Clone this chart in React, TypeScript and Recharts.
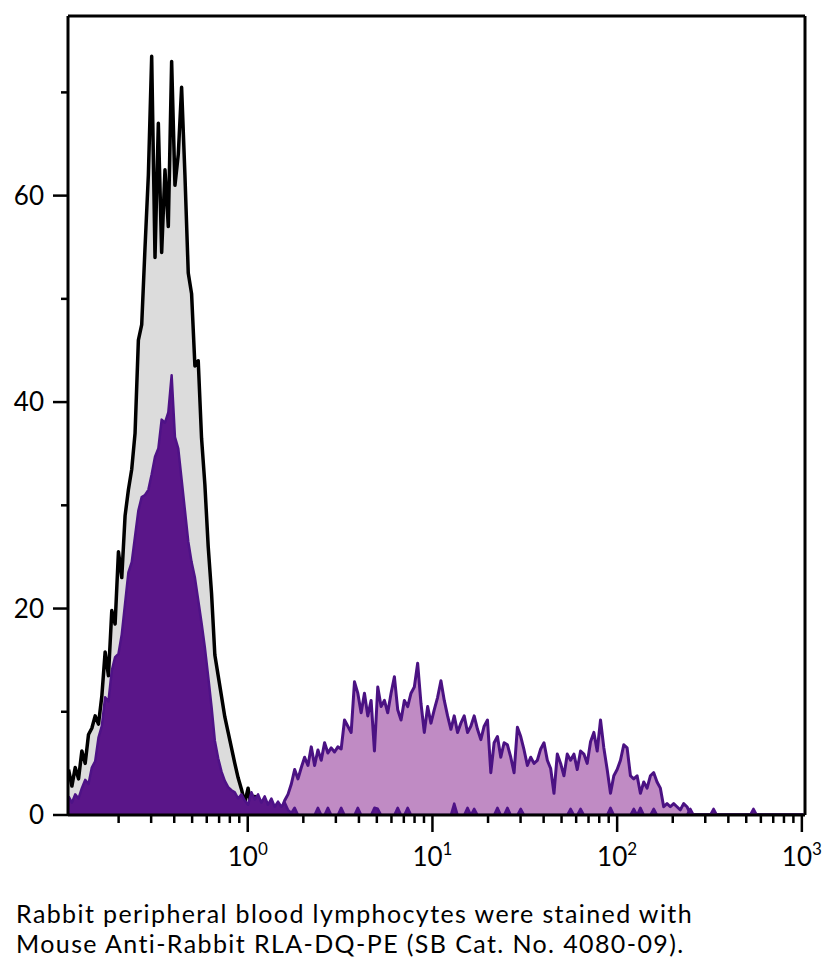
import { AreaChart, Area, XAxis, YAxis, ReferenceLine } from 'recharts';

// histogram bins are evenly spaced in log10 of fluorescence
const LOG_START = -0.97;
const LOG_STEP = 0.018;
const BIN_COUNT = 222;

const X_MIN = 0.1064;
const X_MAX = 1040;
const Y_MAX = 77.4;

// unstained / isotype control (grey with black outline)
const controlCounts = [
  4.4, 2.8, 4.6, 3.5, 6.2, 5.0, 7.8, 8.4, 9.6, 8.8,
  11.5, 15.8, 13.5, 19.8, 18.5, 25.5, 23.0, 29.0, 31.5, 33.5,
  37.0, 46.0, 47.5, 55.0, 62.0, 73.5, 54.0, 67.0, 54.5, 62.5,
  57.0, 73.0, 61.0, 64.0, 70.5, 62.0, 52.5, 50.5, 43.5, 44.0,
  36.5, 32.0, 26.0, 21.5, 15.5, 13.5, 11.5, 9.5, 8.0, 6.5,
  5.0, 3.6, 2.5, 1.2, 2.6, 0.6, 1.8, 0.4, 1.0, 0.2,
  0.5, 0,
];

// negative population (dark purple)
const negativeCounts = [
  1.8, 1.2, 2.0, 1.6, 2.6, 3.4, 3.0, 4.6, 5.2, 7.5,
  8.6, 11.4, 11.0, 14.0, 15.3, 15.6, 17.5, 20.5, 23.5, 24.5,
  27.0, 29.5, 30.8, 31.0, 31.5, 33.0, 34.7, 35.5, 38.3, 38.0,
  39.0, 42.6, 36.6, 35.5, 32.5, 29.5, 26.5, 24.5, 23.0, 20.8,
  18.6, 16.2, 13.4, 10.5, 7.2, 5.5, 4.2, 3.3, 2.7, 2.4,
  2.2, 1.6, 2.0, 1.4, 1.0, 2.2, 1.5, 2.0, 1.2, 1.8,
  1.0, 1.6, 0.8, 1.3, 0.8, 1.2, 0.5, 0.2,
  0.7, 0, 0, 0, 0, 0, 0, 0.7, 0, 0,
  0.7, 0, 0, 0, 0.7, 0, 0, 0, 0, 0.7,
  0, 0, 0, 0, 0.7, 0.6, 0, 0, 0, 0,
  0, 0.7, 0, 0, 0.7, 0, 0, 0, 0, 0,
  0, 0, 0, 0, 0, 0, 0, 0, 1.1, 0,
  0, 0, 0.7, 0, 0.6, 0, 0, 0, 0, 0,
  0, 0.7, 0, 0, 0.7, 0, 0, 0, 0.6, 0,
  0, 0, 0, 0, 0, 0, 0, 0, 0, 0,
  0, 0, 0, 0.6, 0, 0, 0.6, 0, 0, 0,
  0, 0, 0, 0, 0, 0.7, 0, 0, 0, 0,
  0, 0, 0.6, 0, 0.7, 0, 0, 0, 0.6, 0,
  0, 0, 0, 0, 0, 0, 0, 0, 0, 0.6,
  0, 0, 0, 0, 0, 0, 0.6, 0, 0, 0,
  0, 0, 0, 0, 0, 0, 0, 0, 0.6, 0,
];

// RLA-DQ positive population (light purple), starts at bin 64
const POSITIVE_START_BIN = 64;
const positiveCounts = [
  0.6, 1.4, 2.0, 3.0, 4.4, 3.5, 4.6, 5.6, 4.8, 6.6,
  4.8, 6.3, 5.3, 7.0, 6.0, 6.5, 6.1, 6.6, 6.4, 9.2,
  8.6, 8.0, 12.9, 11.8, 9.9, 11.8, 9.6, 11.1, 6.2, 12.4,
  10.5, 11.1, 9.9, 11.8, 13.4, 10.2, 9.2, 11.1, 10.5, 11.8,
  12.4, 14.7, 10.8, 8.0, 10.5, 8.9, 10.2, 11.4, 13.0, 11.1,
  9.6, 8.3, 9.6, 8.0, 8.9, 9.6, 8.0, 8.6, 9.6, 8.3,
  7.3, 8.6, 9.2, 4.1, 7.0, 7.6, 5.6, 7.0, 6.8, 5.6,
  4.1, 8.5, 7.6, 6.3, 4.8, 5.6, 5.0, 5.3, 6.4, 7.0,
  5.3, 4.5, 2.1, 5.9, 5.0, 3.8, 5.9, 5.3, 5.9, 4.4,
  6.2, 5.9, 5.0, 7.1, 8.0, 6.2, 9.2, 6.5, 4.4, 2.1,
  3.8, 4.4, 5.3, 6.8, 6.5, 3.8, 3.5, 3.8, 2.1, 3.2,
  2.6, 3.8, 4.1, 3.2, 2.6, 0.8, 1.1, 0.8, 1.1, 0.8,
  0.5, 1.1, 0.8, 0.1,
];

const xMajorTicks = [1, 10, 100, 1000];
const xMinorDecades = [0.1, 1, 10, 100];
const xMinorSteps = [2, 3, 4, 5, 6, 7, 8, 9];
const yTicks = [0, 10, 20, 30, 40, 50, 60, 70];
const yLabelled = [0, 20, 40, 60];

const captionLines = [
  'Rabbit peripheral blood lymphocytes were stained with',
  'Mouse Anti-Rabbit RLA-DQ-PE (SB Cat. No. 4080-09).',
];

const xTicks = [
  ...xMinorDecades.flatMap((d) => xMinorSteps.map((s) => d * s)),
  ...xMajorTicks,
].sort((a, b) => a - b);

const data = Array.from({ length: BIN_COUNT }, (_, i) => ({
  x: Math.pow(10, LOG_START + i * LOG_STEP),
  control: controlCounts[i] ?? 0,
  negative: negativeCounts[i] ?? 0,
  positive:
    i >= POSITIVE_START_BIN ? positiveCounts[i - POSITIVE_START_BIN] ?? 0 : 0,
}));

const FONT = 'Lato, "Open Sans", sans-serif';

const XTick = (props: any) => {
  const { x, y, payload } = props;
  const v = payload.value;
  const exp = Math.round(Math.log10(v));
  const major = xMajorTicks.includes(v);
  return (
    <g>
      <line x1={x} x2={x} y1={y} y2={y + (major ? 17 : 8)} stroke="#000" strokeWidth={2.5} />
      {major && (
        <text x={x} y={y + 51} textAnchor="middle" fontSize={26} fontFamily={FONT} fill="#000">
          10
          <tspan dy={-11} fontSize={17}>
            {exp}
          </tspan>
        </text>
      )}
    </g>
  );
};

const YTick = (props: any) => {
  const { x, y, payload } = props;
  const major = yLabelled.includes(payload.value);
  return (
    <g>
      <line x1={x - (major ? 15 : 7)} x2={x} y1={y} y2={y} stroke="#000" strokeWidth={2.5} />
      {major && (
        <text x={x - 24} y={y} dy="0.36em" textAnchor="end" fontSize={26} fontFamily={FONT} fill="#000">
          {payload.value}
        </text>
      )}
    </g>
  );
};

export default function App() {
  return (
    <div style={{ position: 'relative', width: 816, height: 950, fontFamily: FONT }}>
      <AreaChart
        width={816}
        height={880}
        data={data}
        margin={{ top: 8, right: 19, bottom: 23, left: 0 }}
      >
        <Area
          type="linear"
          dataKey="control"
          fill="#dcdcdc"
          fillOpacity={1}
          stroke="#000"
          strokeWidth={3.5}
          strokeLinejoin="round"
          dot={false}
          activeDot={false}
          isAnimationActive={false}
        />
        <Area
          type="linear"
          dataKey="positive"
          fill="#c08bc4"
          fillOpacity={1}
          stroke="#4b1283"
          strokeWidth={3}
          strokeLinejoin="round"
          dot={false}
          activeDot={false}
          isAnimationActive={false}
        />
        <Area
          type="linear"
          dataKey="negative"
          fill="#5a1689"
          fillOpacity={1}
          stroke="#4e1287"
          strokeWidth={2.5}
          strokeLinejoin="round"
          dot={false}
          activeDot={false}
          isAnimationActive={false}
        />
        <XAxis
          dataKey="x"
          type="number"
          scale="log"
          domain={[X_MIN, X_MAX]}
          allowDataOverflow
          ticks={xTicks}
          interval={0}
          tick={<XTick />}
          tickLine={false}
          tickSize={0}
          tickMargin={0}
          axisLine={{ stroke: '#000', strokeWidth: 3 }}
          height={50}
        />
        <YAxis
          type="number"
          domain={[0, Y_MAX]}
          allowDataOverflow
          ticks={yTicks}
          interval={0}
          tick={<YTick />}
          tickLine={false}
          tickSize={0}
          tickMargin={0}
          axisLine={{ stroke: '#000', strokeWidth: 3 }}
          width={60}
        />
        <ReferenceLine y={Y_MAX} stroke="#000" strokeWidth={3} />
        <ReferenceLine x={X_MAX} stroke="#000" strokeWidth={3} />
      </AreaChart>
      <div
        style={{
          position: 'absolute',
          left: 8,
          top: 890,
          fontSize: 25,
          lineHeight: '30px',
          letterSpacing: 1.4,
          color: '#000',
        }}
      >
        {captionLines.map((l) => (
          <div key={l}>{l}</div>
        ))}
      </div>
    </div>
  );
}
